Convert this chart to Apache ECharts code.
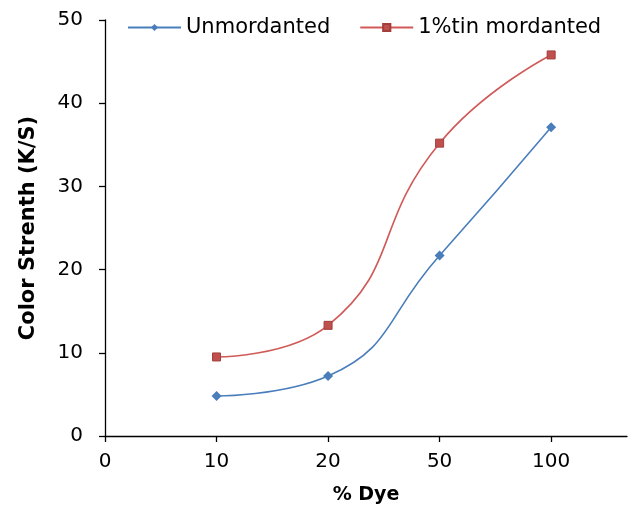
<!DOCTYPE html>
<html>
<head>
<meta charset="utf-8">
<script src="https://cdn.jsdelivr.net/npm/echarts@6/dist/echarts.min.js"></script>
<style>
  html, body { margin: 0; padding: 0; background: #fff; }
  #chart { width: 628px; height: 511px; }
</style>
</head>
<body>
<div id="chart"></div>
<script>
  // tick labels of the x axis, placed at equal steps
  var tickLabels = ['0', '10', '20', '50', '100'];
  var dyeLevels = ['10', '20', '50', '100'];
  var unmordanted = [4.8, 7.2, 21.7, 37.1];
  var tinMordanted = [9.5, 13.3, 35.2, 45.8];

  function toPoints(values) {
    return dyeLevels.map(function (d, i) {
      return [tickLabels.indexOf(d), values[i]];
    });
  }

  var fontFamily = 'DejaVu Sans';
  var chart = echarts.init(document.getElementById('chart'));
  chart.setOption({
    animation: false,
    grid: { left: 105, right: 1, top: 20, bottom: 75 },
    legend: {
      left: 122,
      top: 12,
      itemWidth: 53,
      itemHeight: 9,
      itemGap: 29,
      textStyle: { fontFamily: fontFamily, fontSize: 21, color: '#000' },
      data: ['Unmordanted', '1%tin mordanted']
    },
    xAxis: {
      type: 'value',
      min: 0,
      max: 4.68,
      interval: 1,
      name: '% Dye',
      nameLocation: 'middle',
      nameGap: 50,
      nameTextStyle: { fontFamily: fontFamily, fontSize: 19, fontWeight: 'bold', color: '#000' },
      axisLine: { lineStyle: { color: '#000', width: 1.3 } },
      axisTick: { show: true, length: 6, customValues: [0, 1, 2, 3, 4], lineStyle: { color: '#000', width: 1.3 } },
      axisLabel: {
        customValues: [0, 1, 2, 3, 4],
        margin: 16,
        fontFamily: fontFamily,
        fontSize: 20,
        color: '#000',
        formatter: function (v) { return tickLabels[Math.round(v)]; }
      },
      splitLine: { show: false }
    },
    yAxis: {
      type: 'value',
      min: 0,
      max: 50,
      interval: 10,
      name: 'Color Strenth (K/S)',
      nameLocation: 'middle',
      nameGap: 66,
      nameTextStyle: { fontFamily: fontFamily, fontSize: 21, fontWeight: 'bold', color: '#000' },
      axisLine: { show: true, lineStyle: { color: '#000', width: 1.3 } },
      axisTick: { show: true, length: 6, lineStyle: { color: '#000', width: 1.3 } },
      axisLabel: { margin: 22, fontFamily: fontFamily, fontSize: 20, color: '#000' },
      splitLine: { show: false }
    },
    series: [
      {
        name: 'Unmordanted',
        type: 'line',
        smooth: 0.5,
        data: toPoints(unmordanted),
        symbol: 'diamond',
        symbolSize: 10,
        lineStyle: { color: '#4A7EBB', width: 1.6 },
        itemStyle: { color: '#4A7EBB' }
      },
      {
        name: '1%tin mordanted',
        type: 'line',
        smooth: 0.5,
        data: toPoints(tinMordanted),
        symbol: 'rect',
        symbolSize: 8,
        lineStyle: { color: '#D05A58', width: 1.6 },
        itemStyle: { color: '#C0504D', borderColor: '#A33E3B', borderWidth: 1 }
      }
    ]
  });
</script>
</body>
</html>
